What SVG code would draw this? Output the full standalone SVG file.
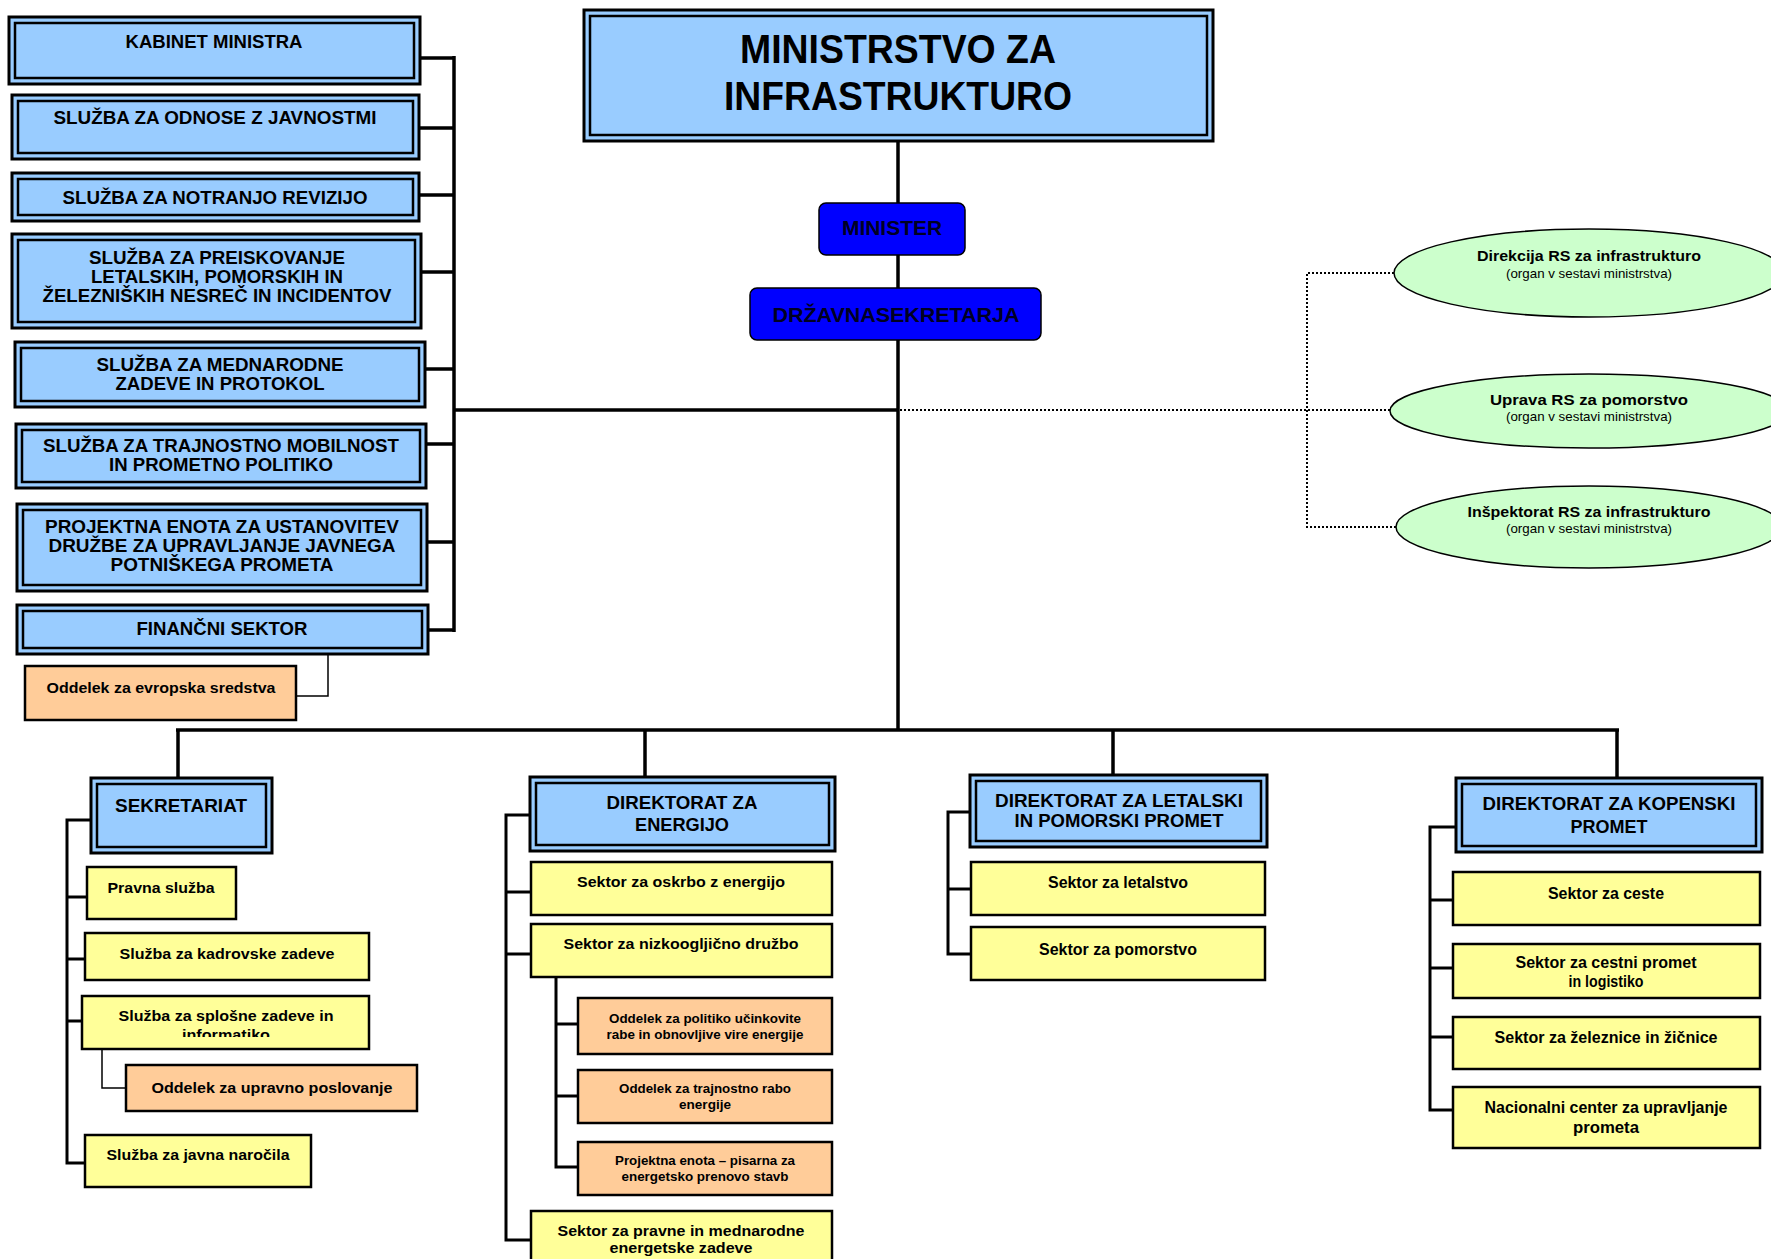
<svg xmlns="http://www.w3.org/2000/svg" width="1771" height="1259" viewBox="0 0 1771 1259">
<style>
.bo{fill:#99CCFF;stroke:#000;stroke-width:3}
.bi{fill:none;stroke:#000;stroke-width:2.5}
.yel{fill:#FFFF99;stroke:#000;stroke-width:2.5}
.org{fill:#FFCC99;stroke:#000;stroke-width:2.5}
.ell{fill:#CCFFCC;stroke:#000;stroke-width:1.5}
.btn{fill:#0000FF;stroke:#000;stroke-width:1.5}
.ln{stroke:#000;stroke-width:3.5;fill:none}
.ln2{stroke:#000;stroke-width:3;fill:none}
.thin{stroke:#000;stroke-width:1.5;fill:none}
.dot{stroke:#000;stroke-width:2;stroke-dasharray:2 2;fill:none}
text{font-family:"Liberation Sans",Arial,sans-serif;font-weight:bold;text-anchor:middle;fill:#000}
.t40{font-size:40px}
.t21{font-size:21px;fill:#000022}
.t18{font-size:18px}
.t17{font-size:17px}
.t15{font-size:15px}
.t13{font-size:13px}
.sub{font-size:13px;font-weight:normal}
</style>
<defs>
<clipPath id="cSplosne"><rect x="82" y="996" width="287" height="41"/></clipPath>
<clipPath id="cCestni"><rect x="1453" y="944" width="307" height="47"/></clipPath>
</defs>
<rect width="1771" height="1259" fill="#fff"/>

<g id="connectors">
<line class="ln" x1="898" y1="141" x2="898" y2="731"/>
<line class="ln" x1="454" y1="56" x2="454" y2="632"/>
<line class="ln" x1="454" y1="410" x2="898" y2="410"/>
<line class="ln" x1="420" y1="58" x2="454" y2="58"/>
<line class="ln" x1="419" y1="128" x2="454" y2="128"/>
<line class="ln" x1="419" y1="195" x2="454" y2="195"/>
<line class="ln" x1="421" y1="272" x2="454" y2="272"/>
<line class="ln" x1="425" y1="369" x2="454" y2="369"/>
<line class="ln" x1="426" y1="444" x2="454" y2="444"/>
<line class="ln" x1="427" y1="542" x2="454" y2="542"/>
<line class="ln" x1="428" y1="630" x2="454" y2="630"/>
<polyline class="thin" points="328,654 328,696 296,696"/>
<line class="ln" x1="176" y1="730" x2="1619" y2="730"/>
<line class="ln" x1="178" y1="730" x2="178" y2="778"/>
<line class="ln" x1="645" y1="730" x2="645" y2="777"/>
<line class="ln" x1="1113" y1="730" x2="1113" y2="775"/>
<line class="ln" x1="1617" y1="730" x2="1617" y2="778"/>
<polyline class="ln2" points="91,820 67,820 67,1163 85,1163"/>
<line class="ln2" x1="67" y1="897" x2="87" y2="897"/>
<line class="ln2" x1="67" y1="959" x2="85" y2="959"/>
<line class="ln2" x1="67" y1="1021" x2="82" y2="1021"/>
<polyline class="thin" points="102,1049 102,1088 126,1088"/>
<polyline class="ln2" points="530,815 506,815 506,1240 531,1240"/>
<line class="ln2" x1="506" y1="892" x2="531" y2="892"/>
<line class="ln2" x1="506" y1="954" x2="531" y2="954"/>
<polyline class="ln2" points="556,977 556,1167 578,1167"/>
<line class="ln2" x1="556" y1="1024" x2="578" y2="1024"/>
<line class="ln2" x1="556" y1="1096" x2="578" y2="1096"/>
<polyline class="ln2" points="970,812 948,812 948,954 971,954"/>
<line class="ln2" x1="948" y1="889" x2="971" y2="889"/>
<polyline class="ln2" points="1456,827 1430,827 1430,1110 1453,1110"/>
<line class="ln2" x1="1430" y1="900" x2="1453" y2="900"/>
<line class="ln2" x1="1430" y1="968" x2="1453" y2="968"/>
<line class="ln2" x1="1430" y1="1037" x2="1453" y2="1037"/>
<line class="dot" x1="900" y1="410" x2="1390" y2="410"/>
<polyline class="dot" points="1394,273 1307,273 1307,527 1396,527"/>
</g>

<g id="ministrstvo">
<rect class="bo" x="584" y="10" width="629" height="131"/>
<rect class="bi" x="590" y="16" width="617" height="119"/>
<text class="t40" x="898" y="63" textLength="316" lengthAdjust="spacingAndGlyphs">MINISTRSTVO ZA</text>
<text class="t40" x="898" y="110" textLength="348" lengthAdjust="spacingAndGlyphs">INFRASTRUKTURO</text>
</g>
<g id="minister">
<rect class="btn" x="819" y="203" width="146" height="52" rx="7"/>
<text class="t21" x="892" y="235" textLength="100" lengthAdjust="spacingAndGlyphs">MINISTER</text>
</g>
<g id="drzavna-sekretarja">
<rect class="btn" x="750" y="288" width="291" height="52" rx="7"/>
<text class="t21" x="896" y="322" textLength="247" lengthAdjust="spacingAndGlyphs">DRŽAVNASEKRETARJA</text>
</g>

<g id="kabinet">
<rect class="bo" x="9" y="17" width="411" height="67"/>
<rect class="bi" x="15" y="23" width="399" height="55"/>
<text class="t18" x="214" y="48" textLength="177" lengthAdjust="spacingAndGlyphs">KABINET MINISTRA</text>
</g>
<g id="odnosi">
<rect class="bo" x="12" y="95" width="407" height="64"/>
<rect class="bi" x="18" y="101" width="395" height="52"/>
<text class="t18" x="215" y="124" textLength="323" lengthAdjust="spacingAndGlyphs">SLUŽBA ZA ODNOSE Z JAVNOSTMI</text>
</g>
<g id="revizija">
<rect class="bo" x="12" y="173" width="407" height="48"/>
<rect class="bi" x="18" y="179" width="395" height="36"/>
<text class="t18" x="215" y="204" textLength="305" lengthAdjust="spacingAndGlyphs">SLUŽBA ZA NOTRANJO REVIZIJO</text>
</g>
<g id="preiskovanje">
<rect class="bo" x="12" y="234" width="409" height="94"/>
<rect class="bi" x="18" y="240" width="397" height="82"/>
<text class="t18" x="217" y="264" textLength="256" lengthAdjust="spacingAndGlyphs">SLUŽBA ZA PREISKOVANJE</text>
<text class="t18" x="217" y="283" textLength="252" lengthAdjust="spacingAndGlyphs">LETALSKIH, POMORSKIH IN</text>
<text class="t18" x="217" y="302" textLength="349" lengthAdjust="spacingAndGlyphs">ŽELEZNIŠKIH NESREČ IN INCIDENTOV</text>
</g>
<g id="mednarodne">
<rect class="bo" x="15" y="342" width="410" height="65"/>
<rect class="bi" x="21" y="348" width="398" height="53"/>
<text class="t18" x="220" y="371" textLength="247" lengthAdjust="spacingAndGlyphs">SLUŽBA ZA MEDNARODNE</text>
<text class="t18" x="220" y="390" textLength="209" lengthAdjust="spacingAndGlyphs">ZADEVE IN PROTOKOL</text>
</g>
<g id="mobilnost">
<rect class="bo" x="16" y="424" width="410" height="64"/>
<rect class="bi" x="22" y="430" width="398" height="52"/>
<text class="t18" x="221" y="452" textLength="356" lengthAdjust="spacingAndGlyphs">SLUŽBA ZA TRAJNOSTNO MOBILNOST</text>
<text class="t18" x="221" y="471" textLength="224" lengthAdjust="spacingAndGlyphs">IN PROMETNO POLITIKO</text>
</g>
<g id="projektna-enota">
<rect class="bo" x="17" y="504" width="410" height="87"/>
<rect class="bi" x="23" y="510" width="398" height="75"/>
<text class="t18" x="222" y="533" textLength="354" lengthAdjust="spacingAndGlyphs">PROJEKTNA ENOTA ZA USTANOVITEV</text>
<text class="t18" x="222" y="552" textLength="347" lengthAdjust="spacingAndGlyphs">DRUŽBE ZA UPRAVLJANJE JAVNEGA</text>
<text class="t18" x="222" y="571" textLength="223" lengthAdjust="spacingAndGlyphs">POTNIŠKEGA PROMETA</text>
</g>
<g id="financni">
<rect class="bo" x="17" y="605" width="411" height="49"/>
<rect class="bi" x="23" y="611" width="399" height="37"/>
<text class="t18" x="222" y="635" textLength="171" lengthAdjust="spacingAndGlyphs">FINANČNI SEKTOR</text>
</g>
<g id="evropska-sredstva">
<rect class="org" x="25" y="666" width="271" height="54"/>
<text class="t15" x="161" y="693" textLength="229" lengthAdjust="spacingAndGlyphs">Oddelek za evropska sredstva</text>
</g>

<g id="direkcija">
<ellipse class="ell" cx="1589" cy="273" rx="195" ry="44"/>
<text class="t15" x="1589" y="261" textLength="224" lengthAdjust="spacingAndGlyphs">Direkcija RS za infrastrukturo</text>
<text class="sub" x="1589" y="278" textLength="166" lengthAdjust="spacingAndGlyphs">(organ v sestavi ministrstva)</text>
</g>
<g id="uprava">
<ellipse class="ell" cx="1589" cy="411" rx="199" ry="37"/>
<text class="t15" x="1589" y="405" textLength="198" lengthAdjust="spacingAndGlyphs">Uprava RS za pomorstvo</text>
<text class="sub" x="1589" y="421" textLength="166" lengthAdjust="spacingAndGlyphs">(organ v sestavi ministrstva)</text>
</g>
<g id="inspektorat">
<ellipse class="ell" cx="1589" cy="527" rx="193" ry="41"/>
<text class="t15" x="1589" y="517" textLength="243" lengthAdjust="spacingAndGlyphs">Inšpektorat RS za infrastrukturo</text>
<text class="sub" x="1589" y="533" textLength="166" lengthAdjust="spacingAndGlyphs">(organ v sestavi ministrstva)</text>
</g>

<g id="sekretariat">
<rect class="bo" x="91" y="778" width="181" height="75"/>
<rect class="bi" x="97" y="784" width="169" height="63"/>
<text class="t18" x="181" y="812" textLength="132" lengthAdjust="spacingAndGlyphs">SEKRETARIAT</text>
</g>
<g id="pravna-sluzba">
<rect class="yel" x="87" y="867" width="149" height="52"/>
<text class="t15" x="161" y="893" textLength="107" lengthAdjust="spacingAndGlyphs">Pravna služba</text>
</g>
<g id="kadrovske">
<rect class="yel" x="85" y="933" width="284" height="47"/>
<text class="t15" x="227" y="959" textLength="215" lengthAdjust="spacingAndGlyphs">Služba za kadrovske zadeve</text>
</g>
<g id="splosne">
<rect class="yel" x="82" y="996" width="287" height="53"/>
<g clip-path="url(#cSplosne)">
<text class="t15" x="226" y="1021" textLength="215" lengthAdjust="spacingAndGlyphs">Služba za splošne zadeve in</text>
<text class="t15" x="226" y="1040" textLength="88" lengthAdjust="spacingAndGlyphs">informatiko</text>
</g>
</g>
<g id="upravno-poslovanje">
<rect class="org" x="126" y="1065" width="291" height="46"/>
<text class="t15" x="272" y="1093" textLength="241" lengthAdjust="spacingAndGlyphs">Oddelek za upravno poslovanje</text>
</g>
<g id="javna-narocila">
<rect class="yel" x="85" y="1135" width="226" height="52"/>
<text class="t15" x="198" y="1160" textLength="183" lengthAdjust="spacingAndGlyphs">Služba za javna naročila</text>
</g>

<g id="dir-energija">
<rect class="bo" x="530" y="777" width="305" height="74"/>
<rect class="bi" x="536" y="783" width="293" height="62"/>
<text class="t18" x="682" y="809" textLength="151" lengthAdjust="spacingAndGlyphs">DIREKTORAT ZA</text>
<text class="t18" x="682" y="831" textLength="94" lengthAdjust="spacingAndGlyphs">ENERGIJO</text>
</g>
<g id="oskrba">
<rect class="yel" x="531" y="862" width="301" height="53"/>
<text class="t15" x="681" y="887" textLength="208" lengthAdjust="spacingAndGlyphs">Sektor za oskrbo z energijo</text>
</g>
<g id="nizkoogljicna">
<rect class="yel" x="531" y="924" width="301" height="53"/>
<text class="t15" x="681" y="949" textLength="235" lengthAdjust="spacingAndGlyphs">Sektor za nizkoogljično družbo</text>
</g>
<g id="ucinkovita-raba">
<rect class="org" x="578" y="998" width="254" height="56"/>
<text class="t13" x="705" y="1023" textLength="192" lengthAdjust="spacingAndGlyphs">Oddelek za politiko učinkovite</text>
<text class="t13" x="705" y="1039" textLength="197" lengthAdjust="spacingAndGlyphs">rabe in obnovljive vire energije</text>
</g>
<g id="trajnostna-raba">
<rect class="org" x="578" y="1070" width="254" height="53"/>
<text class="t13" x="705" y="1093" textLength="172" lengthAdjust="spacingAndGlyphs">Oddelek za trajnostno rabo</text>
<text class="t13" x="705" y="1109" textLength="52" lengthAdjust="spacingAndGlyphs">energije</text>
</g>
<g id="pisarna-prenova">
<rect class="org" x="578" y="1142" width="254" height="53"/>
<text class="t13" x="705" y="1165" textLength="180" lengthAdjust="spacingAndGlyphs">Projektna enota – pisarna za</text>
<text class="t13" x="705" y="1181" textLength="167" lengthAdjust="spacingAndGlyphs">energetsko prenovo stavb</text>
</g>
<g id="pravne-mednarodne">
<rect class="yel" x="531" y="1211" width="301" height="60"/>
<text class="t15" x="681" y="1236" textLength="247" lengthAdjust="spacingAndGlyphs">Sektor za pravne in mednarodne</text>
<text class="t15" x="681" y="1253" textLength="143" lengthAdjust="spacingAndGlyphs">energetske zadeve</text>
</g>

<g id="dir-letalski">
<rect class="bo" x="970" y="775" width="297" height="72"/>
<rect class="bi" x="976" y="781" width="285" height="60"/>
<text class="t18" x="1119" y="807" textLength="248" lengthAdjust="spacingAndGlyphs">DIREKTORAT ZA LETALSKI</text>
<text class="t18" x="1119" y="827" textLength="209" lengthAdjust="spacingAndGlyphs">IN POMORSKI PROMET</text>
</g>
<g id="letalstvo">
<rect class="yel" x="971" y="862" width="294" height="53"/>
<text class="t17" x="1118" y="888" textLength="140" lengthAdjust="spacingAndGlyphs">Sektor za letalstvo</text>
</g>
<g id="pomorstvo">
<rect class="yel" x="971" y="927" width="294" height="53"/>
<text class="t17" x="1118" y="955" textLength="158" lengthAdjust="spacingAndGlyphs">Sektor za pomorstvo</text>
</g>

<g id="dir-kopenski">
<rect class="bo" x="1456" y="778" width="306" height="74"/>
<rect class="bi" x="1462" y="784" width="294" height="62"/>
<text class="t18" x="1609" y="810" textLength="253" lengthAdjust="spacingAndGlyphs">DIREKTORAT ZA KOPENSKI</text>
<text class="t18" x="1609" y="833" textLength="77" lengthAdjust="spacingAndGlyphs">PROMET</text>
</g>
<g id="ceste">
<rect class="yel" x="1453" y="872" width="307" height="53"/>
<text class="t17" x="1606" y="899" textLength="116" lengthAdjust="spacingAndGlyphs">Sektor za ceste</text>
</g>
<g id="cestni-promet">
<rect class="yel" x="1453" y="944" width="307" height="54"/>
<g clip-path="url(#cCestni)">
<text class="t17" x="1606" y="968" textLength="181" lengthAdjust="spacingAndGlyphs">Sektor za cestni promet</text>
<text class="t17" x="1606" y="987" textLength="75" lengthAdjust="spacingAndGlyphs">in logistiko</text>
</g>
</g>
<g id="zeleznice">
<rect class="yel" x="1453" y="1017" width="307" height="52"/>
<text class="t17" x="1606" y="1043" textLength="223" lengthAdjust="spacingAndGlyphs">Sektor za železnice in žičnice</text>
</g>
<g id="nacionalni-center">
<rect class="yel" x="1453" y="1087" width="307" height="61"/>
<text class="t17" x="1606" y="1113" textLength="243" lengthAdjust="spacingAndGlyphs">Nacionalni center za upravljanje</text>
<text class="t17" x="1606" y="1133" textLength="66" lengthAdjust="spacingAndGlyphs">prometa</text>
</g>
</svg>
